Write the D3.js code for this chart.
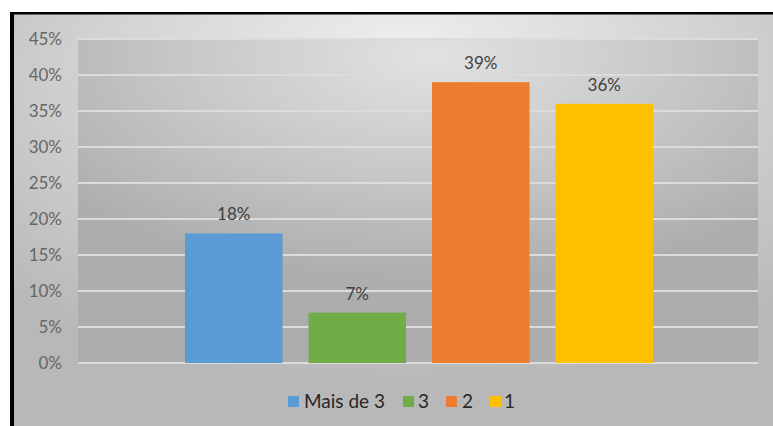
<!DOCTYPE html>
<html>
<head>
<meta charset="utf-8">
<script src="https://cdn.jsdelivr.net/npm/d3@7"></script>
<style>
  html, body { margin: 0; padding: 0; background: #ffffff; }
  svg { display: block; font-family: Lato, "Open Sans", sans-serif; }
</style>
</head>
<body>
<svg id="chart" width="773" height="426"></svg>
<script>
// Number of children per household, share of respondents
const series = ["Mais de 3", "3", "2", "1"];
const values = [0.18, 0.07, 0.39, 0.36];
const colors = ["#5B9BD5", "#70AD47", "#ED7D31", "#FFC000"];
const yTicks = [0, 0.05, 0.10, 0.15, 0.20, 0.25, 0.30, 0.35, 0.40, 0.45];

const svg = d3.select("#chart");

const frame = { left: 10, top: 12, right: 773, bottom: 426 };
const plot = { left: 78, right: 758, top: 39, bottom: 363 };

const defs = svg.append("defs");

// Outer chart background: soft radial gray
const bgGrad = defs.append("radialGradient")
  .attr("id", "bgGrad")
  .attr("cx", "52%").attr("cy", "15%").attr("r", "75%")
  .attr("fx", "52%").attr("fy", "10%");
bgGrad.append("stop").attr("offset", "0%").attr("stop-color", "#efefef");
bgGrad.append("stop").attr("offset", "55%").attr("stop-color", "#d2d2d2");
bgGrad.append("stop").attr("offset", "100%").attr("stop-color", "#b8b8b8");

// Plot area: darker on the sides, lighter in the middle
const plotGrad = defs.append("radialGradient")
  .attr("id", "plotGrad")
  .attr("cx", "52%").attr("cy", "5%").attr("r", "70%");
plotGrad.append("stop").attr("offset", "0%").attr("stop-color", "#e2e2e2");
plotGrad.append("stop").attr("offset", "55%").attr("stop-color", "#c6c6c6");
plotGrad.append("stop").attr("offset", "100%").attr("stop-color", "#adadad");

svg.append("rect")
  .attr("x", frame.left).attr("y", frame.top)
  .attr("width", frame.right - frame.left).attr("height", frame.bottom - frame.top)
  .attr("fill", "url(#bgGrad)");

// Black frame edges (left and top)
svg.append("rect").attr("x", frame.left).attr("y", frame.top)
  .attr("width", 4).attr("height", frame.bottom - frame.top).attr("fill", "#000");
svg.append("rect").attr("x", frame.left).attr("y", frame.top)
  .attr("width", frame.right - frame.left).attr("height", 2.5).attr("fill", "#000");

svg.append("rect")
  .attr("x", plot.left).attr("y", plot.top)
  .attr("width", plot.right - plot.left).attr("height", plot.bottom - plot.top)
  .attr("fill", "url(#plotGrad)");

const y = d3.scaleLinear().domain([0, 0.45]).range([plot.bottom, plot.top]);

const x = d3.scaleBand()
  .domain(series)
  .range([172, 666])
  .paddingInner(0.21)
  .paddingOuter(0.105);

// Gridlines
svg.append("g")
  .selectAll("line")
  .data(yTicks)
  .join("line")
  .attr("x1", plot.left).attr("x2", plot.right)
  .attr("y1", d => y(d)).attr("y2", d => y(d))
  .attr("stroke", "#dcdcdc")
  .attr("stroke-width", 2);

// Y axis labels
const yAxis = d3.axisLeft(y)
  .tickValues(yTicks)
  .tickFormat(d3.format(".0%"))
  .tickSize(0)
  .tickPadding(0);
const gy = svg.append("g")
  .attr("transform", "translate(62,0)")
  .call(yAxis);
gy.select(".domain").remove();
gy.selectAll("text")
  .attr("fill", "#666666")
  .attr("font-size", 17)
  .attr("font-family", "Lato, 'Open Sans', sans-serif");

// Bars
svg.append("g")
  .selectAll("rect")
  .data(series)
  .join("rect")
  .attr("x", d => x(d))
  .attr("width", x.bandwidth())
  .attr("y", (d, i) => y(values[i]))
  .attr("height", (d, i) => y(0) - y(values[i]))
  .attr("fill", (d, i) => colors[i]);

// Value labels
svg.append("g")
  .selectAll("text")
  .data(series)
  .join("text")
  .attr("x", d => x(d) + x.bandwidth() / 2)
  .attr("y", (d, i) => y(values[i]) - 13)
  .attr("text-anchor", "middle")
  .attr("fill", "#404040")
  .attr("font-size", 17)
  .text((d, i) => d3.format(".0%")(values[i]));

// Legend
const legendItems = [
  { sq: 288, tx: 304 },
  { sq: 403, tx: 418 },
  { sq: 446, tx: 462 },
  { sq: 490, tx: 504 }
];
const lg = svg.append("g");
series.forEach((s, i) => {
  lg.append("rect")
    .attr("x", legendItems[i].sq).attr("y", 396)
    .attr("width", 11).attr("height", 11)
    .attr("fill", colors[i]);
  lg.append("text")
    .attr("x", legendItems[i].tx).attr("y", 408)
    .attr("fill", "#262626")
    .attr("font-size", 19)
    .text(s);
});
</script>
</body>
</html>
